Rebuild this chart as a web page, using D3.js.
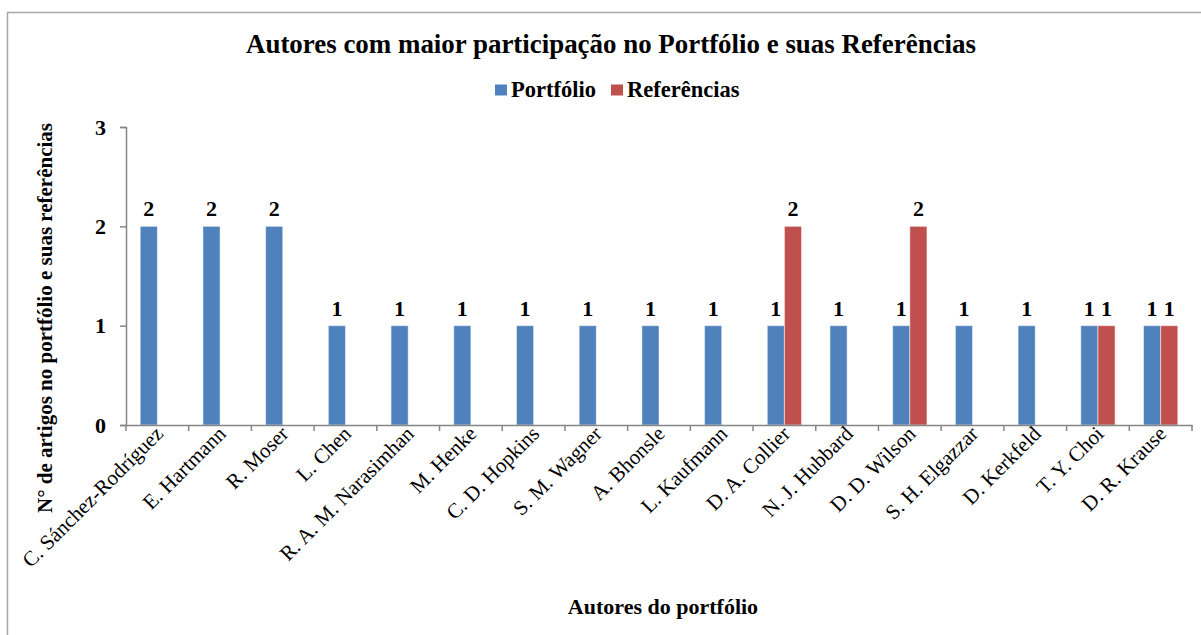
<!DOCTYPE html>
<html>
<head>
<meta charset="utf-8">
<script src="https://cdn.jsdelivr.net/npm/d3@7"></script>
<style>
  body { margin: 0; background: #fff; }
  text { font-family: "Liberation Serif", "Times New Roman", serif; fill: #000; }
</style>
</head>
<body>
<div id="chart"></div>
<script>
// Autores com maior participação - portfólio x referências

const authors = [
    'C. Sánchez-Rodríguez', 'E. Hartmann', 'R. Moser', 'L. Chen',
    'R. A. M. Narasimhan', 'M. Henke', 'C. D. Hopkins', 'S. M. Wagner',
    'A. Bhonsle', 'L. Kaufmann', 'D. A. Collier', 'N. J. Hubbard',
    'D. D. Wilson', 'S. H. Elgazzar', 'D. Kerkfeld', 'T. Y. Choi', 'D. R. Krause'
];
const portfolio = [2, 2, 2, 1, 1, 1, 1, 1, 1, 1, 1, 1, 1, 1, 1, 1, 1];
const referencias = [null, null, null, null, null, null, null, null, null, null, 2, null, 2, null, null, 1, 1];
const seriesNames = ['Portfólio', 'Referências'];
const seriesColors = ['#4F81BD', '#C0504D'];
const yTicks = [0, 1, 2, 3];

const width = 1201;
const height = 635;
const margin = { top: 127, right: 9, bottom: 210, left: 126 };
const innerWidth = width - margin.left - margin.right;
const innerHeight = height - margin.top - margin.bottom;
const axisColor = '#868686';

const svg = d3.select('#chart')
    .append('svg')
    .attr('width', width)
    .attr('height', height);

// outer chart frame (only top and left edges are visible)
svg.append('path')
    .attr('d', `M7.5,${height} V12.5 H${width}`)
    .attr('fill', 'none')
    .attr('stroke', '#a6a6a6')
    .attr('stroke-width', 1.5);

// title
svg.append('text')
    .attr('x', 611).attr('y', 52.5)
    .attr('text-anchor', 'middle')
    .attr('font-size', 27)
    .attr('font-weight', 'bold')
    .attr('textLength', 730)
    .attr('lengthAdjust', 'spacingAndGlyphs')
    .text('Autores com maior participação no Portfólio e suas Referências');

// legend
const legendPos = [495, 611];
const legend = svg.append('g');
seriesNames.forEach((name, i) => {
    legend.append('rect')
        .attr('x', legendPos[i]).attr('y', 84.5)
        .attr('width', 12).attr('height', 11)
        .attr('fill', seriesColors[i]);
    legend.append('text')
        .attr('x', legendPos[i] + 16).attr('y', 97)
        .attr('font-size', 22.5)
        .attr('font-weight', 'bold')
        .text(name);
});

const g = svg.append('g')
    .attr('transform', `translate(${margin.left},${margin.top})`);

// scales
const xScale = d3.scaleBand()
    .domain(authors)
    .range([0, innerWidth])
    .paddingInner(0)
    .paddingOuter(0);

const xSub = d3.scaleBand()
    .domain(seriesNames)
    .range([0, xScale.bandwidth()])
    .paddingInner(0)
    .paddingOuter(0.83);

const yScale = d3.scaleLinear()
    .domain([0, 3])
    .range([innerHeight, 0]);

// y axis
const yAxis = g.append('g')
    .call(d3.axisLeft(yScale).tickValues(yTicks).tickSize(6).tickPadding(14).tickFormat(d3.format('d')));
yAxis.select('.domain').attr('stroke', axisColor).attr('stroke-width', 1.5);
yAxis.selectAll('.tick line').attr('stroke', axisColor).attr('stroke-width', 1.5);
yAxis.selectAll('.tick text')
    .attr('font-size', 22)
    .attr('font-weight', 'bold')
    .attr('fill', '#000');

// bars
const seriesData = [portfolio, referencias];
seriesData.forEach((values, s) => {
    const rows = authors.map((a, i) => ({ author: a, value: values[i] }))
        .filter(d => d.value !== null);

    g.selectAll(`.bar-${s}`)
        .data(rows)
        .enter()
        .append('rect')
        .attr('class', `bar-${s}`)
        .attr('x', d => xScale(d.author) + xSub(seriesNames[s]))
        .attr('y', d => yScale(d.value))
        .attr('width', xSub.bandwidth())
        .attr('height', d => innerHeight - yScale(d.value))
        .attr('fill', seriesColors[s])
        .attr('stroke', '#ffffff')
        .attr('stroke-opacity', 0.5)
        .attr('stroke-width', 1);

    g.selectAll(`.label-${s}`)
        .data(rows)
        .enter()
        .append('text')
        .attr('class', `label-${s}`)
        .attr('x', d => xScale(d.author) + xSub(seriesNames[s]) + xSub.bandwidth() / 2)
        .attr('y', d => yScale(d.value) - 10)
        .attr('text-anchor', 'middle')
        .attr('font-size', 22)
        .attr('font-weight', 'bold')
        .text(d => d.value);
});

// x axis (drawn over the bar bases)
const xAxis = g.append('g')
    .attr('transform', `translate(0,${innerHeight})`)
    .call(d3.axisBottom(xScale).tickSize(0).tickFormat(''));
xAxis.select('.domain').attr('stroke', axisColor).attr('stroke-width', 1.5);

// category separators
g.append('g')
    .selectAll('line')
    .data(authors.concat(['_end']))
    .enter()
    .append('line')
    .attr('x1', (d, i) => i * xScale.step())
    .attr('x2', (d, i) => i * xScale.step())
    .attr('y1', innerHeight)
    .attr('y2', innerHeight + 6)
    .attr('stroke', axisColor)
    .attr('stroke-width', 1.5);

// category labels rotated
g.append('g')
    .selectAll('text')
    .data(authors)
    .enter()
    .append('text')
    .attr('transform', d => `translate(${xScale(d) + xScale.bandwidth() / 2 + 7},${innerHeight + 10}) rotate(-45)`)
    .attr('text-anchor', 'end')
    .attr('font-size', 21)
    .text(d => d);

// axis titles
svg.append('text')
    .attr('transform', 'translate(52,318) rotate(-90)')
    .attr('text-anchor', 'middle')
    .attr('font-size', 21)
    .attr('font-weight', 'bold')
    .text('N° de artigos no portfólio e suas referências');

svg.append('text')
    .attr('x', 663).attr('y', 614)
    .attr('text-anchor', 'middle')
    .attr('font-size', 22)
    .attr('font-weight', 'bold')
    .text('Autores do portfólio');
</script>
</body>
</html>
